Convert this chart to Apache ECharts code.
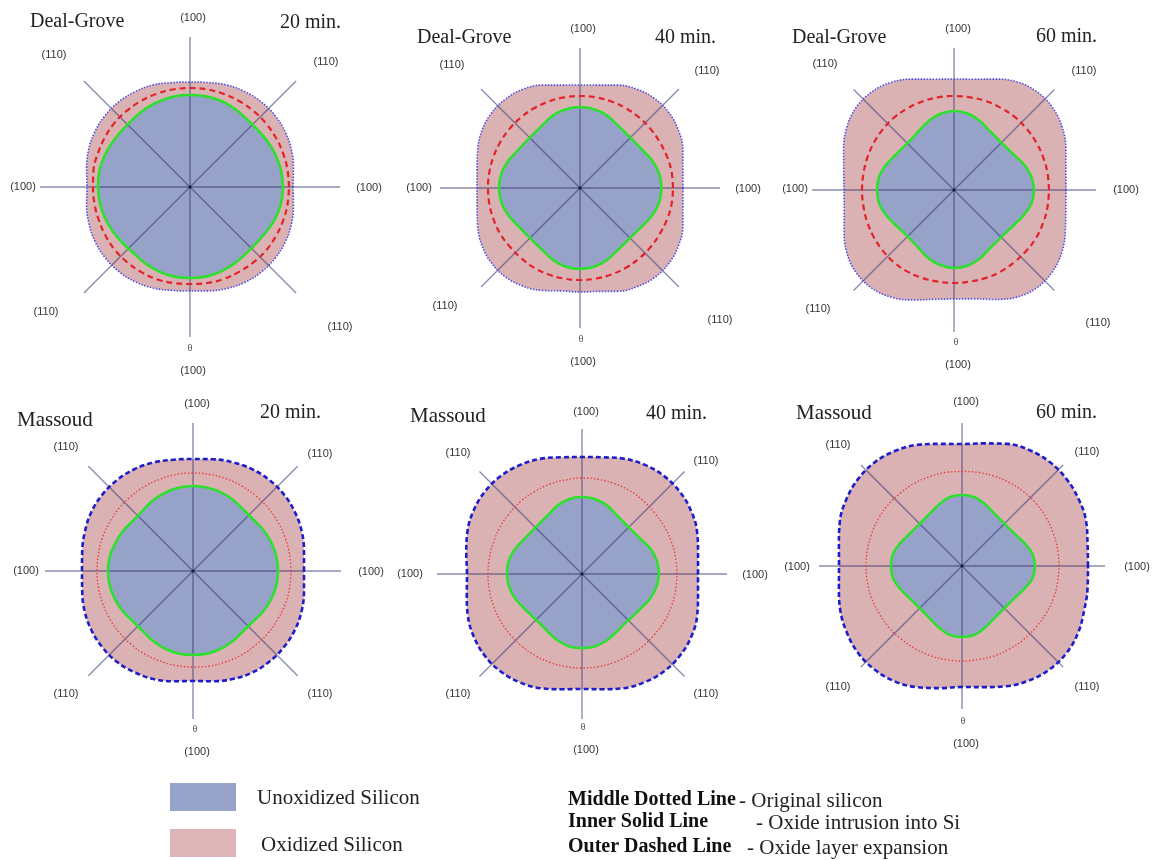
<!DOCTYPE html>
<html>
<head>
<meta charset="utf-8">
<script src="https://cdn.jsdelivr.net/npm/echarts@6/dist/echarts.min.js"></script>
<style>
  html, body { margin: 0; padding: 0; background: #ffffff; }
  #chart { width: 1156px; height: 860px; }
</style>
</head>
<body>
<div id="chart"></div>
<script>
// Polar angles (degrees, counter-clockwise from the right-hand (100) direction)
const angles = [0, 10, 20, 30, 40, 50, 60, 70, 80,
                90, 100, 110, 120, 130, 140, 150, 160, 170,
                180, 190, 200, 210, 220, 230, 240, 250, 260,
                270, 280, 290, 300, 310, 320, 330, 340, 350];

// Deal-Grove, 20 min: outer oxide boundary, original silicon, oxide/Si interface
const dg20Outer  = [103,105,108,110,111,111,110,108.5,106, 105,106,108.5,110,111,111,110,108,105,
                    103,105,107.5,109.5,110.5,110.5,109.5,107.5,105, 104,105.5,108,110,111,111,110,108,105];
const dg20Middle = [99,99,99,99,99,99,99,99,99, 99,99,99,99,99,99,98.5,98,98,
                    97,97,97,97.5,98,98,98,98,97.5, 97,97.5,98,98,98.5,99,99,99,99];
const dg20Inner  = [93,92.5,91.5,90,88.5,88.5,90,91.5,92, 92,92,91,90,88.5,88.5,89.5,91,92,
                    92,91.5,90.5,89,87.5,87,88.5,90,91, 91,91,90,88.5,87,87,88.5,91,92.5];

// Deal-Grove, 40 min
const dg40Outer  = [103,104.5,109.5,114,116.5,116.5,114,109.5,104.5, 103,104.5,109.5,114,116,116,113.5,109,104.5,
                    103,104.5,109,113.5,116,116,113.5,109,104.5, 104,105,110,114,116.5,116.5,114,109.5,104.5];
const dg40Middle = [93,93,92.5,92,92,92,92,92,92, 92,92,92,92,92,92,92,92,92,
                    92,92,92,92,91.5,91.5,92,92,92, 92,92,92,92,92,92,92,92.5,93];
const dg40Inner  = [81.5,80.5,77.5,73.5,71.5,71.5,73.5,77.5,80, 81,80,77.5,73.5,71.3,71.3,73,77,80,
                    81,80,77,73,71,71,73,77,80, 81,80,77,73,71,71,73.5,77.5,80.5];

// Deal-Grove, 60 min
const dg60Outer  = [112,113.5,119,125,128.5,128.5,125,118,112.5, 111,112.5,118,124.5,128,128,124,117.5,112,
                    110,111.5,117,124,128,128,124,117,111, 109,110.5,116.5,124,128,128,124.5,118.5,113.5];
const dg60Middle = [95,95,95,95,95,95,94.5,94.5,94, 94,94,94,94,94,93.5,93,92.5,92,
                    92,92,92.5,93,93.5,94,94,93.5,93, 93,93,93.5,94,94,94.5,95,95,95];
const dg60Inner  = [80,78.5,74.5,69.5,67.3,67.3,69.4,73.9,77.7, 79,77.5,73.5,69,66.3,66.3,68.5,72.5,76,
                    77,76,72.5,68.5,66,66,68.5,73,76.5, 78,77,73.5,69,67,67,69.5,74,78.5];

// Massoud, 20 min
const ms20Outer  = [111,112.7,115.7,117.7,118.8,118.8,117.7,115.7,113.5, 112,113,115.5,117.5,118.5,118.5,117.5,115,112.5,
                    111,112.5,115.5,117.5,118.5,118.5,117,115,112, 110,112,115,117.5,118.5,118.5,117.7,115.7,112.7];
const ms20Middle = [98,98,98,98,98,98,98,98,98, 98,98,97.5,97.5,97,97,96.5,96.5,96,
                    96,96,96,96,96,96,96,96,96, 96,96.5,96.5,97,97,97.5,97.5,98,98];
const ms20Inner  = [85,84.6,83.4,81.5,79.3,79.3,81.5,83.4,84.6, 85,84.5,83,81,78.5,78.3,80.5,82.5,84.5,
                    85,84.5,83,80.8,78.3,78.3,80.5,82.5,83.8, 84,83.8,82.5,80.5,78.3,78.5,81,83,84.5];

// Massoud, 40 min
const ms40Outer  = [116,117.8,122.5,126,127.8,127.8,126,122.7,118.5, 117,118.5,122.5,125.5,127.3,127.3,125.5,122,117.5,
                    115,117,121.5,125,127,127,125,121.5,117, 115,117,121.5,125,127.3,127.5,126,122.5,117.8];
const ms40Middle = [95,95,95,95,95,95.5,96,96,96, 96,95.5,95.5,95,95,94.5,94.5,94,94,
                    94,94,94,94,94,94,94,94,94, 94,94,94,94,94.5,94.5,95,95,95];
const ms40Inner  = [77,76,73,68.5,66.3,66.3,68.5,73,76, 77,76,72.5,68,66,65.8,67.8,71.5,74.5,
                    75,74,71.3,67.5,65.3,65,67.3,70.8,73.5, 74,73.5,71,67.5,65.5,66,68.3,72.3,75.5];

// Massoud, 60 min
const ms60Outer  = [126,127.5,132,134.5,136,136,134,130,124.5, 122,124,129,133,135.5,135.5,133.5,130,125,
                    123,125,129.5,133,135.5,135.5,133.5,129,124, 121,123,128,132.5,135.5,136,134,130,127.5];
const ms60Middle = [97,97,97,97,97,96.5,96,95.5,95, 94.5,95,95,95.5,95.5,96,96,96,96,
                    96,96,96,95.5,95.5,95,95,95,95, 95,95,95.5,95.5,96,96,96.5,97,97];
const ms60Inner  = [73,71.3,66.6,62.2,60.2,60.2,62.1,66.2,70, 71,70,66,62,60,60,62,66,70,
                    71,70,66,62,60,60,62,66,70, 71,70,66,62,60,60,62.1,66.4,71.5];

// Panel titles and crystal-direction labels
const modelNames = ['Deal-Grove', 'Deal-Grove', 'Deal-Grove', 'Massoud', 'Massoud', 'Massoud'];
const timeLabels = ['20 min.', '40 min.', '60 min.', '20 min.', '40 min.', '60 min.'];
const dirLabels  = ['(100)', '(100)', '(100)', '\u03b8', '(100)', '(110)', '(110)', '(110)', '(110)'];
const legendFills = ['Unoxidized Silicon', 'Oxidized Silicon'];
const legendLinesBold = ['Middle Dotted Line', 'Inner Solid Line', 'Outer Dashed Line'];
const legendLinesText = ['- Original silicon', '- Oxide intrusion into Si', '- Oxide layer expansion'];

const curves = [
  [dg20Outer, dg20Middle, dg20Inner],
  [dg40Outer, dg40Middle, dg40Inner],
  [dg60Outer, dg60Middle, dg60Inner],
  [ms20Outer, ms20Middle, ms20Inner],
  [ms40Outer, ms40Middle, ms40Inner],
  [ms60Outer, ms60Middle, ms60Inner]
];

// ---- layout ----
const panels = [
  { c: [190, 187], R: 150, title: [30, 22],  time: [280, 23],
    lab: [[3,-169],[-167,0],[179,1],[0,162],[3,184],[-136,-132],[136,-125],[-144,125],[150,140]] },
  { c: [580, 188], R: 140, title: [417, 38], time: [655, 38],
    lab: [[3,-159],[-161,0],[168,1],[1,152],[3,174],[-128,-123],[127,-117],[-135,118],[140,132]] },
  { c: [954, 190], R: 142, title: [792, 38], time: [1036, 37],
    lab: [[4,-161],[-159,-1],[172,0],[2,153],[4,175],[-129,-126],[130,-119],[-136,119],[144,133]] },
  { c: [193, 571], R: 148, title: [17, 420], time: [260, 413],
    lab: [[4,-167],[-167,0],[178,1],[2,159],[4,181],[-127,-124],[127,-117],[-127,123],[127,123]] },
  { c: [582, 574], R: 145, title: [410, 416], time: [646, 414],
    lab: [[4,-162],[-172,0],[173,1],[1,154],[4,176],[-124,-121],[124,-113],[-124,120],[124,120]] },
  { c: [962, 566], R: 143, title: [796, 413], time: [1036, 413],
    lab: [[4,-164],[-165,1],[175,1],[1,156],[4,178],[-124,-121],[125,-114],[-124,121],[125,121]] }
];

const FILL_SI = '#97a2c8';
const FILL_OX = '#dbb2b3';
const GREEN = '#2ee02e';
const SPOKE = 'rgba(45,48,110,0.55)';

// Deal-Grove panels: dotted outer, dashed middle; Massoud panels: dashed outer, dotted middle
const styleDG = {
  outer:  { color: '#4d4de0', width: 1.6, type: [1.5, 1.5] },
  middle: { color: '#e3222a', width: 2.2, type: [6, 4] }
};
const styleMS = {
  outer:  { color: '#1e1ec8', width: 2.6, type: [5, 3] },
  middle: { color: '#e83a3a', width: 1.3, type: [1.5, 2] }
};

function toPolar(r) {
  const p = angles.map((a, i) => [r[i], a]);
  p.push([r[0], 360]);   // close the contour
  return p;
}

const polar = [], radiusAxis = [], angleAxis = [], series = [], graphic = [];
const serif = '"Liberation Serif", "Times New Roman", serif';
const sans = '"Liberation Sans", Arial, sans-serif';

panels.forEach((p, i) => {
  polar.push({ center: p.c, radius: p.R });
  radiusAxis.push({
    polarIndex: i, type: 'value', min: 0, max: p.R,
    axisLine: { show: false }, axisTick: { show: false },
    axisLabel: { show: false }, splitLine: { show: false }
  });
  angleAxis.push({
    polarIndex: i, type: 'value', min: 0, max: 360, interval: 45,
    startAngle: 0, clockwise: false, z: 2,
    axisLine: { show: false }, axisTick: { show: false }, axisLabel: { show: false },
    splitLine: { show: true, lineStyle: { color: SPOKE, width: 1.4 } }
  });

  const [outer, middle, inner] = curves[i];
  const st = i < 3 ? styleDG : styleMS;
  const base = { type: 'line', coordinateSystem: 'polar', polarIndex: i,
                 smooth: 0.4, symbol: 'none', silent: true, animation: false };

  // filled regions: oxide up to the outer boundary, silicon inside the interface
  series.push(Object.assign({}, base, {
    data: toPolar(outer), z: 1,
    lineStyle: { width: 0 }, areaStyle: { color: FILL_OX, opacity: 1 }
  }));
  series.push(Object.assign({}, base, {
    data: toPolar(inner), z: 1,
    lineStyle: { width: 0 }, areaStyle: { color: FILL_SI, opacity: 1 }
  }));
  // contour lines above the spokes
  series.push(Object.assign({}, base, { data: toPolar(outer), z: 3, lineStyle: st.outer }));
  series.push(Object.assign({}, base, { data: toPolar(middle), z: 3, lineStyle: st.middle }));
  series.push(Object.assign({}, base, { data: toPolar(inner), z: 3,
    lineStyle: { color: GREEN, width: 2.6 } }));

  // centre point
  graphic.push({ type: 'circle', shape: { cx: p.c[0], cy: p.c[1], r: 1.6 },
                 style: { fill: '#1a1a3a' }, z: 10 });

  // titles
  graphic.push({ type: 'text', x: p.title[0], y: p.title[1], z: 10,
    style: { text: modelNames[i], fill: '#222', font: (i < 3 ? '20px ' : '21px ') + serif,
             textAlign: 'left', textVerticalAlign: 'middle' } });
  graphic.push({ type: 'text', x: p.time[0], y: p.time[1], z: 10,
    style: { text: timeLabels[i], fill: '#222', font: '20px ' + serif,
             textAlign: 'left', textVerticalAlign: 'middle' } });

  // direction labels
  p.lab.forEach((o, k) => {
    const isTheta = dirLabels[k] === '\u03b8';
    graphic.push({ type: 'text', x: p.c[0] + o[0], y: p.c[1] + o[1], z: 10,
      style: { text: dirLabels[k], fill: isTheta ? '#555' : '#333',
               font: (isTheta ? '9px ' : '11px ') + sans,
               textAlign: 'center', textVerticalAlign: 'middle' } });
  });
});

// legend: fill swatches
graphic.push({ type: 'rect', shape: { x: 170, y: 783, width: 66, height: 28 },
               style: { fill: '#98a3ca' } });
graphic.push({ type: 'rect', shape: { x: 170, y: 829, width: 66, height: 28 },
               style: { fill: '#ddb4b8' } });
graphic.push({ type: 'text', x: 257, y: 798,
  style: { text: legendFills[0], fill: '#222', font: '21px ' + serif,
           textAlign: 'left', textVerticalAlign: 'middle' } });
graphic.push({ type: 'text', x: 261, y: 845,
  style: { text: legendFills[1], fill: '#222', font: '21px ' + serif,
           textAlign: 'left', textVerticalAlign: 'middle' } });

// legend: line descriptions
const lineRowsY = [800, 822, 847];
const lineTextX = [739, 756, 747];
legendLinesBold.forEach((t, k) => {
  graphic.push({ type: 'text', x: 568, y: lineRowsY[k],
    style: { text: t, fill: '#111', font: 'bold 20px ' + serif,
             textAlign: 'left', textVerticalAlign: 'middle' } });
  graphic.push({ type: 'text', x: lineTextX[k], y: lineRowsY[k] + 1,
    style: { text: legendLinesText[k], fill: '#222', font: '21px ' + serif,
             textAlign: 'left', textVerticalAlign: 'middle' } });
});

const chart = echarts.init(document.getElementById('chart'), null, { renderer: 'canvas' });
chart.setOption({
  backgroundColor: '#ffffff',
  animation: false,
  polar, radiusAxis, angleAxis, series, graphic
});
</script>
</body>
</html>
